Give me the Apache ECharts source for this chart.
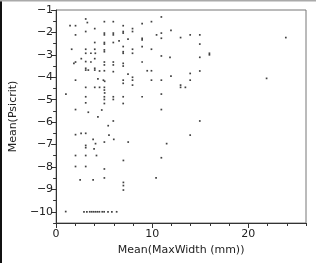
<!DOCTYPE html>
<html>
<head>
<meta charset="utf-8">
<script src="https://cdn.jsdelivr.net/npm/echarts@6/dist/echarts.min.js"></script>
<style>
html,body{margin:0;padding:0;background:#fff;}
#c{width:320px;height:263px;}
</style>
</head>
<body>
<div id="c"></div>
<script>
// Mean(MaxWidth (mm)) values
var maxWidth = [
3.08,3.25,1.45,2.02,5.02,5.95,8.95,9.92,10.95,6.98,4.02,7.95,7.95,2.02,3.08,5.02,5.02,5.95,5.95,6.98,
6.98,10.45,10.95,10.95,8.95,8.95,7.48,4.02,5.02,5.02,5.95,6.55,8.95,6.98,5.02,5.02,4.02,3.08,1.62,3.62,
4.08,3.08,6.98,6.98,7.95,7.95,9.92,10.95,2.62,2.02,1.85,3.08,3.62,4.02,5.02,5.02,5.95,5.95,6.98,6.98,
8.95,3.08,3.08,3.35,4.02,4.02,4.52,5.02,5.95,7.48,7.95,9.48,9.92,2.02,4.35,4.92,5.05,6.98,6.98,7.95,
9.92,10.95,3.08,4.02,4.52,5.02,5.02,5.05,7.95,1.02,3.08,5.02,5.02,5.95,5.95,6.98,8.95,10.95,3.08,5.02,
6.98,2.02,3.35,4.75,4.35,10.95,5.95,5.42,
2.02,2.6,3.08,3.85,5.02,5.5,6.0,7.5,3.08,3.08,4.1,3.95,2.02,3.08,4.2,10.95,7.0,2.02,3.08,5.02,
2.5,3.85,5.02,7.0,7.0,7.0,10.4,1.0,
2.9,3.2,3.5,3.7,3.9,4.1,4.3,4.5,4.8,5.0,5.4,5.8,6.3,
11.95,12.95,13.95,14.95,14.95,15.95,15.95,14.95,11.85,14.95,13.95,13.95,11.95,12.95,12.95,13.45,23.9,21.9,14.95,11.5,
13.95
];
// Mean(Psicrit) values
var psicrit = [
-1.40,-1.56,-1.70,-1.70,-1.52,-1.52,-1.61,-1.52,-1.31,-1.70,-1.83,-1.83,-1.96,-2.11,-1.96,-2.03,-2.11,-2.03,-2.11,-1.96,
-2.03,-2.11,-2.03,-2.26,-2.26,-2.33,-2.30,-2.45,-2.45,-2.52,-2.45,-2.38,-2.63,-2.63,-2.78,-2.86,-2.75,-2.75,-2.75,-2.93,
-2.93,-2.93,-2.86,-2.93,-2.75,-2.93,-2.75,-3.05,-3.17,-3.32,-3.38,-3.30,-3.32,-3.17,-3.32,-3.45,-3.32,-3.45,-3.38,-3.50,
-3.32,-3.60,-3.68,-3.68,-3.60,-3.68,-3.72,-3.71,-3.75,-3.86,-4.00,-3.71,-3.71,-4.13,-4.07,-4.13,-4.18,-4.13,-4.27,-4.13,
-4.13,-4.13,-4.45,-4.45,-4.45,-4.45,-4.57,-4.70,-4.35,-4.75,-4.87,-4.87,-4.99,-4.87,-4.99,-4.87,-4.87,-4.75,-5.14,-5.17,
-5.17,-5.44,-5.56,-5.46,-5.77,-5.44,-5.95,-6.16,
-6.56,-6.50,-6.50,-6.77,-6.89,-6.58,-6.77,-6.89,-7.04,-7.14,-6.96,-7.19,-7.49,-7.49,-7.49,-7.59,-7.71,-7.98,-7.98,-8.09,
-8.58,-8.58,-8.49,-8.69,-8.83,-9.03,-8.49,-9.99,
-10,-10,-10,-10,-10,-10,-10,-10,-10,-10,-10,-10,-10,
-1.91,-2.23,-2.11,-2.11,-2.52,-2.93,-3.00,-3.11,-3.11,-3.72,-3.83,-4.13,-3.95,-4.35,-4.45,-4.45,-2.23,-4.05,-5.95,-6.96,
-6.58
];
var yTickValues = [-10,-9,-8,-7,-6,-5,-4,-3,-2,-1];
var yMinorValues = [-10.5,-9.5,-8.5,-7.5,-6.5,-5.5,-4.5,-3.5,-2.5,-1.5];
var xTickValues = [0,10,20];
var xMinorValues = [2,4,6,8,12,14,16,18,22,24,26];

var points = maxWidth.map(function(x,i){return [x, psicrit[i]];});
var font = '"DejaVu Sans", sans-serif';
var chart = echarts.init(document.getElementById('c'), null, {renderer:'canvas'});
chart.setOption({
  animation:false,
  backgroundColor:'#fff',
  grid:{left:46,right:14,top:10,bottom:40,show:true,borderColor:'#777',borderWidth:1,backgroundColor:'transparent'},
  xAxis:[{
    type:'value',min:0,max:26,
    name:'Mean(MaxWidth (mm))',nameLocation:'middle',nameGap:19,
    nameTextStyle:{fontFamily:font,fontSize:11,color:'#222'},
    axisLine:{show:true,lineStyle:{color:'#333',width:1}},
    axisTick:{show:true,length:5,lineStyle:{color:'#333'},customValues:xTickValues},
    axisLabel:{fontFamily:font,fontSize:11,color:'#222',margin:6,customValues:xTickValues},
    splitLine:{show:false}
  },{
    type:'value',min:0,max:26,position:'bottom',
    axisLine:{show:false},
    axisTick:{show:true,length:3,lineStyle:{color:'#333'},customValues:xMinorValues},
    axisLabel:{show:false},
    splitLine:{show:false}
  }],
  yAxis:[{
    type:'value',min:-10.5,max:-1,
    name:'Mean(Psicrit)',nameLocation:'middle',nameGap:30,
    nameTextStyle:{fontFamily:font,fontSize:11,color:'#222'},
    axisLine:{show:true,lineStyle:{color:'#333',width:1}},
    axisTick:{show:true,length:5,lineStyle:{color:'#333'},customValues:yTickValues},
    axisLabel:{fontFamily:font,fontSize:11,color:'#222',margin:3,customValues:yTickValues,
      formatter:function(v){return v<0?'\u2212'+Math.abs(v):String(v);}},
    splitLine:{show:false}
  },{
    type:'value',min:-10.5,max:-1,position:'left',
    axisLine:{show:false},
    axisTick:{show:true,length:3,lineStyle:{color:'#333'},customValues:yMinorValues},
    axisLabel:{show:false},
    splitLine:{show:false}
  }],
  graphic:[
    {type:'rect',shape:{x:0,y:0,width:2,height:263},style:{fill:'#111'},silent:true},
    {type:'rect',shape:{x:0,y:0,width:316,height:1.5},style:{fill:'#aaa'},silent:true}
  ],
  series:[{
    type:'scatter',
    data:points,
    symbol:'rect',
    symbolSize:1.7,
    itemStyle:{color:'#111'},
    silent:true
  }]
});
</script>
</body>
</html>
